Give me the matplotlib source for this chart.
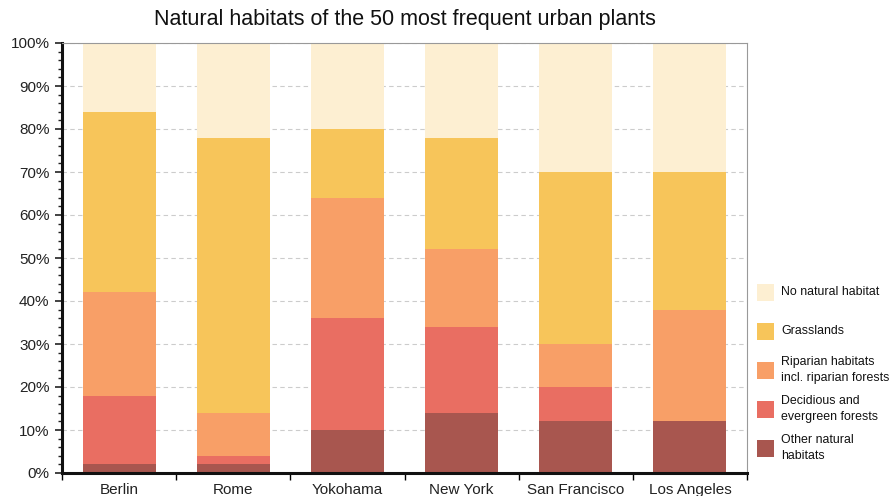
import numpy as np
import matplotlib
matplotlib.use("Agg")
import matplotlib.pyplot as plt
from matplotlib.ticker import MultipleLocator, FixedLocator, PercentFormatter
from matplotlib.patches import Rectangle

plt.rcParams['font.family'] = ['Liberation Sans', 'DejaVu Sans']

cities = ['Berlin', 'Rome', 'Yokohama', 'New York', 'San Francisco', 'Los Angeles']

# stacked from bottom to top, percent of the 50 species
other = [2, 2, 10, 14, 12, 12]
deciduous = [16, 2, 26, 20, 8, 0]
riparian = [24, 10, 28, 18, 10, 26]
grasslands = [42, 64, 16, 26, 40, 32]
no_habitat = [16, 22, 20, 22, 30, 30]

series = [
    ('Other natural\nhabitats', other, '#a8564f'),
    ('Decidious and\nevergreen forests', deciduous, '#e96e62'),
    ('Riparian habitats\nincl. riparian forests', riparian, '#f89f67'),
    ('Grasslands', grasslands, '#f7c55a'),
    ('No natural habitat', no_habitat, '#fdefd2'),
]

W, H = 892, 496
fig = plt.figure(figsize=(W / 100, H / 100), dpi=100)
ax = fig.add_axes([62 / W, 23 / H, 685 / W, 430 / H])

x = np.arange(len(cities))
bottom = np.zeros(len(cities))
for label, vals, color in series:
    ax.bar(x, vals, width=0.64, bottom=bottom, color=color, linewidth=0, zorder=2)
    bottom += np.array(vals)

ax.set_xlim(-0.5, len(cities) - 0.5)
ax.set_ylim(0, 100)

ax.yaxis.set_major_locator(MultipleLocator(10))
ax.yaxis.set_minor_locator(MultipleLocator(2))
ax.yaxis.set_major_formatter(PercentFormatter(decimals=0))
ax.tick_params(axis='y', which='major', length=5, width=1.2, labelsize=11, colors='#222222', pad=4)
ax.tick_params(axis='y', which='minor', length=3, width=1.0, colors='#222222')
ax.grid(axis='y', which='major', linestyle=(0, (4, 3)), color='#cccccc', linewidth=0.8, zorder=0)

ax.xaxis.set_major_locator(FixedLocator(np.arange(-0.5, len(cities), 1.0)))
ax.xaxis.set_major_formatter(plt.NullFormatter())
ax.xaxis.set_minor_locator(FixedLocator(x))
ax.set_xticklabels(cities, minor=True, fontsize=11, color='#222222')
ax.tick_params(axis='x', which='major', length=5, width=1.0, direction='out')
ax.tick_params(axis='x', which='minor', length=0, pad=7)

for side in ('left', 'bottom'):
    ax.spines[side].set_linewidth(2.2)
    ax.spines[side].set_color('#111111')
for side in ('right', 'top'):
    ax.spines[side].set_linewidth(0.8)
    ax.spines[side].set_color('#999999')

fig.text(0.5 * (62 + 747) / W, 1 - 20 / H, 'Natural habitats of the 50 most frequent urban plants',
         fontsize=15.5, color='#111111', ha='center', va='center')

# legend drawn by hand, evenly spaced like the reference
for i, (label, _, color) in enumerate(series[::-1]):
    yc = 292 + 39 * i
    fig.patches.append(Rectangle((757 / W, 1 - (yc + 8.5) / H), 17 / W, 17 / H,
                                 transform=fig.transFigure, facecolor=color, edgecolor='none'))
    fig.text(781 / W, 1 - yc / H, label, fontsize=8.9, color='#111111', ha='left', va='center',
             linespacing=1.4)

fig.savefig('out.png', dpi=100)
